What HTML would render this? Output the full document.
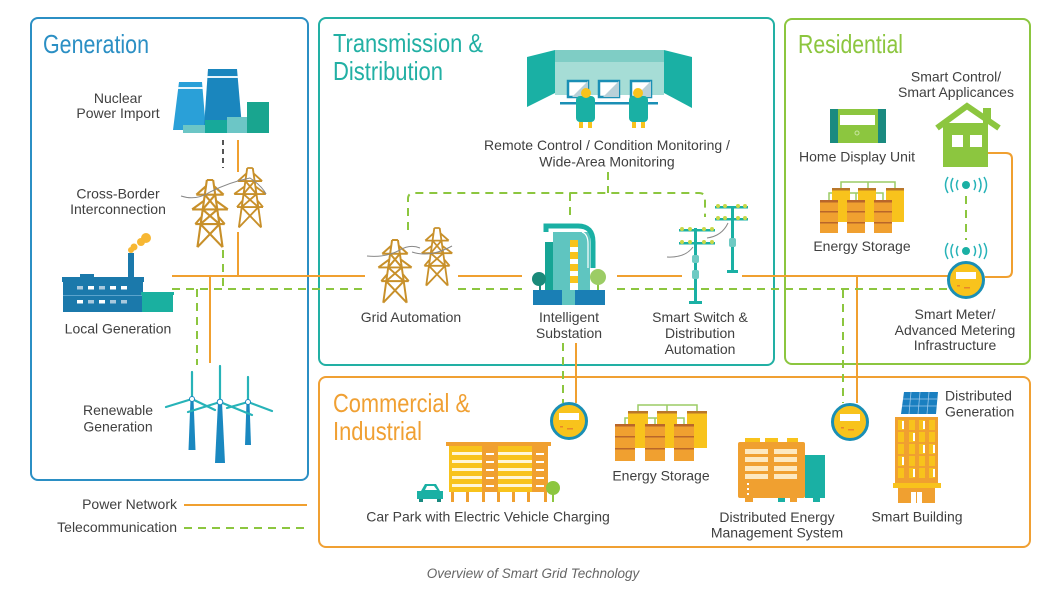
<!DOCTYPE html>
<html><head><meta charset="utf-8">
<style>
html,body{margin:0;padding:0;background:#fff;}
svg{display:block;}
text{font-family:"Liberation Sans",Arial,sans-serif;}
.l{font-size:14px;fill:#404040;text-anchor:middle;}
.t{font-size:26px;}
</style></head><body>
<svg width="1055" height="590" viewBox="0 0 1055 590" xmlns="http://www.w3.org/2000/svg">
<defs>
  <g id="tower" fill="none" stroke="#c8902a" stroke-width="2" stroke-linejoin="round">
    <path d="M-3,0 L-12,64 M3,0 L12,64 M-3,0 H3
             M-13,14 H13 M-13,14 L-4,6 M13,14 L4,6
             M-17,28 H17 M-17,28 L-6,20 M17,28 L6,20
             M-14,42 H14 M-14,42 L-8,35 M14,42 L8,35
             M-5,14 L7,28 M5,14 L-7,28 M-7,28 L9,42 M7,28 L-9,42
             M-9,42 L12,64 M9,42 L-12,64"/>
  </g>
  <g id="meter">
    <circle cx="0" cy="0" r="17.5" fill="#f8c31c" stroke="#1a8fb5" stroke-width="3"/>
    <rect x="-10" y="-8" width="20" height="7" fill="#fff"/>
    <rect x="-9" y="5" width="3" height="1.5" fill="#e8862a"/>
    <rect x="-2" y="7" width="6" height="1.5" fill="#e8862a"/>
  </g>
  <g id="wifi" fill="none" stroke="#27b3b8" stroke-width="1.5">
    <circle cx="0" cy="0" r="4" fill="#1ab0a4" stroke="none"/>
    <path d="M-8,-5 Q-11,0 -8,5 M-13,-7 Q-17,0 -13,7 M-18,-8 Q-23,0 -18,8"/>
    <path d="M8,-5 Q11,0 8,5 M13,-7 Q17,0 13,7 M18,-8 Q23,0 18,8"/>
  </g>
</defs>

<!-- Panels -->
<rect x="31" y="18" width="277" height="462" rx="7" fill="none" stroke="#2b8fc4" stroke-width="2"/>
<rect x="319" y="18" width="455" height="347" rx="7" fill="none" stroke="#22b0a4" stroke-width="2"/>
<rect x="785" y="19" width="245" height="345" rx="7" fill="none" stroke="#8cc63f" stroke-width="2"/>
<rect x="319" y="377" width="711" height="170" rx="7" fill="none" stroke="#f0a033" stroke-width="2"/>

<!-- Titles -->
<text class="t" x="43" y="53" fill="#2b8fc4" textLength="106" lengthAdjust="spacingAndGlyphs">Generation</text>
<text class="t" x="333" y="52" fill="#22b0a4" textLength="150" lengthAdjust="spacingAndGlyphs">Transmission &amp;</text>
<text class="t" x="333" y="80" fill="#22b0a4" textLength="110" lengthAdjust="spacingAndGlyphs">Distribution</text>
<text class="t" x="798" y="53" fill="#8cc63f" textLength="105" lengthAdjust="spacingAndGlyphs">Residential</text>
<text class="t" x="333" y="412" fill="#f0a033" textLength="137" lengthAdjust="spacingAndGlyphs">Commercial &amp;</text>
<text class="t" x="333" y="440" fill="#f0a033" textLength="89" lengthAdjust="spacingAndGlyphs">Industrial</text>

<!-- Power lines (orange) -->
<g fill="none" stroke="#f0a030" stroke-width="2">
  <path d="M172,276 H365 M458,276 H522 M617,276 H682 M742,276 H948"/>
  <path d="M238,140 V172 M238,232 V276"/>
  <path d="M210,276 V363"/>
  <path d="M576,343 V403"/>
  <path d="M857,276 V403"/>
  <path d="M988,153 H1006 Q1012,153 1012,159 V271 Q1012,277 1006,277 H985"/>
  <path d="M184,505 H307"/>
</g>
<!-- Telecom lines (green dashed) -->
<g fill="none" stroke="#8cc63f" stroke-width="2" stroke-dasharray="8,6">
  <path d="M172,289 H365 M458,289 H522 M617,289 H947"/>
  <path d="M223,250 V289"/>
  <path d="M197,289 V365"/>
  <path d="M608,172 V193"/>
  <path d="M408,230 V199 Q408,193 414,193 H699 Q705,193 705,199 V217"/>
  <path d="M570,193 V217"/>
  <path d="M563,343 V403"/>
  <path d="M843,290 V403"/>
  <path d="M966,196 V240"/>
  <path d="M184,528 H307"/>
</g>
<path d="M223,140 V168" stroke="#555" stroke-width="2" stroke-dasharray="5,4" fill="none"/>

<!-- Nuclear -->
<polygon points="179,82 202,82 206,130 173,130" fill="#2aa0d8"/>
<rect x="178" y="87" width="25" height="2" fill="#e8f5fb"/>
<polygon points="208,69 237,69 242,127 204,127" fill="#1a86be"/>
<rect x="207" y="76" width="31" height="2" fill="#e8f5fb"/>
<rect x="183" y="125" width="22" height="8" fill="#6cc6c6"/>
<rect x="205" y="120" width="22" height="13" fill="#17a99a"/>
<rect x="227" y="117" width="21" height="16" fill="#6cc6c6"/>
<rect x="247" y="102" width="22" height="31" fill="#19a58f"/>

<!-- Cross-border towers -->
<use href="#tower" transform="translate(210,180) scale(1.05)"/>
<use href="#tower" transform="translate(250,168) scale(0.93)"/>
<path d="M181,196 Q196,201 210,192 Q230,182 250,178 Q262,186 266,194" stroke="#888" fill="none" stroke-width="1"/>

<!-- Factory -->
<circle cx="146" cy="238" r="5" fill="#f7b733"/>
<circle cx="141" cy="242" r="4" fill="#f7b733"/>
<circle cx="134" cy="247" r="3.5" fill="#f7b733"/>
<circle cx="131" cy="250" r="3" fill="#f7b733"/>
<rect x="128" y="253" width="6" height="26" fill="#1b79ab"/>
<rect x="62" y="277" width="82" height="5" fill="#1b79ab"/>
<rect x="80" y="274" width="14" height="4" fill="#1b79ab"/>
<rect x="63" y="280" width="80" height="32" fill="#1b79ab"/>
<rect x="63" y="295" width="80" height="1" fill="#5aa3cc"/>
<rect x="142" y="294" width="31" height="18" fill="#1ab0a0"/>
<rect x="141" y="292" width="33" height="3" fill="#1ab0a0"/>
<g fill="#fff">
  <rect x="77" y="286" width="6" height="3.5" fill="#a9c9de"/><rect x="88" y="286" width="6" height="3.5"/><rect x="99" y="286" width="6" height="3.5" fill="#a9c9de"/><rect x="110" y="286" width="6" height="3.5"/><rect x="121" y="286" width="6" height="3.5"/>
  <rect x="77" y="300" width="6" height="3.5"/><rect x="88" y="300" width="6" height="3.5" fill="#a9c9de"/><rect x="99" y="300" width="6" height="3.5"/><rect x="110" y="300" width="6" height="3.5" fill="#a9c9de"/><rect x="121" y="300" width="6" height="3.5" fill="#a9c9de"/>
</g>

<!-- Wind turbines -->
<g fill="#1a88c0">
  <polygon points="190.5,399 193.5,399 195.5,450 188.5,450"/>
  <polygon points="218,402 222,402 225,463 215,463"/>
  <polygon points="246.5,402 249.5,402 251,445 245,445"/>
</g>
<g stroke="#27b3b8" stroke-width="2.2" stroke-linecap="round">
  <path d="M192,399 L192,372 M192,399 L166,407 M192,399 L215,410"/>
  <path d="M220,402 L220,366 M220,402 L188,412 M220,402 L252,415"/>
  <path d="M248,402 L248,377 M248,402 L227,408 M248,402 L272,411"/>
</g>
<g fill="#fff" stroke="#1a88c0" stroke-width="1">
  <circle cx="192" cy="399" r="2.5"/><circle cx="220" cy="402" r="2.8"/><circle cx="248" cy="402" r="2.5"/>
</g>

<!-- Control room -->
<rect x="555" y="50" width="109" height="45" fill="#a6ddd6"/>
<rect x="555" y="50" width="109" height="12" fill="#7fcdc5"/>
<polygon points="527,57 555,50 555,93 527,107" fill="#1ab0a4"/>
<polygon points="664,50 692,57 692,108 664,93" fill="#1ab0a4"/>
<g stroke="#1a8fb5" stroke-width="2.5" fill="#fff">
  <rect x="568" y="81" width="20" height="16"/>
  <rect x="599" y="81" width="20" height="16"/>
  <rect x="631" y="81" width="20" height="16"/>
</g>
<g fill="#b8d0d8">
  <polygon points="588,81 588,97 572,97"/><polygon points="619,81 619,97 603,97"/><polygon points="651,81 651,97 635,97"/>
</g>
<rect x="560" y="102" width="98" height="2.5" fill="#1a8fb5"/>
<rect x="576" y="96" width="19" height="26" rx="4" fill="#1ab0a4"/>
<circle cx="586" cy="93" r="5" fill="#f8c31c"/>
<rect x="579" y="122" width="4" height="6" fill="#f8c31c"/><rect x="588" y="122" width="4" height="6" fill="#f8c31c"/>
<rect x="629" y="96" width="19" height="26" rx="4" fill="#1ab0a4"/>
<circle cx="638" cy="93" r="5" fill="#f8c31c"/>
<rect x="632" y="122" width="4" height="6" fill="#f8c31c"/><rect x="641" y="122" width="4" height="6" fill="#f8c31c"/>

<!-- Grid automation towers -->
<use href="#tower" transform="translate(395,240) scale(0.98)"/>
<use href="#tower" transform="translate(437,228) scale(0.9)"/>
<path d="M367,256 Q385,258 400,250 Q410,244 420,248 M412,252 Q430,258 452,246" stroke="#888" fill="none" stroke-width="1"/>

<!-- Intelligent substation -->
<rect x="545" y="242" width="12" height="52" fill="#16a595"/>
<rect x="553" y="232" width="37" height="64" fill="#5fc5c0"/>
<path d="M546,232 V226 H578 Q593,226 593,242 V268" fill="none" stroke="#1ab0a4" stroke-width="5"/>
<path d="M582,232 Q588,234 588,244 V268" fill="none" stroke="#fff" stroke-width="1.2"/>
<rect x="570" y="240" width="8" height="50" fill="#fff"/>
<g fill="#f8c31c"><rect x="570" y="240" width="8" height="7"/><rect x="570" y="252" width="8" height="7"/><rect x="570" y="264" width="8" height="7"/><rect x="570" y="276" width="8" height="7"/></g>
<rect x="539" y="281" width="2" height="10" fill="#1a8a7a"/>
<circle cx="539" cy="279" r="7" fill="#1a8a7a"/>
<rect x="597" y="280" width="2" height="11" fill="#8cc63f"/>
<circle cx="598" cy="277" r="8" fill="#9ccc65"/>
<rect x="533" y="290" width="29" height="15" fill="#1a7fb5"/>
<rect x="575" y="290" width="30" height="15" fill="#1a7fb5"/>
<rect x="562" y="294" width="13" height="11" fill="#5fc5c0"/>

<!-- Smart switch poles -->
<g fill="#1ab0a4">
  <rect x="694" y="228" width="3" height="75"/>
  <rect x="689" y="301" width="13" height="3"/>
  <rect x="679" y="229" width="36" height="2.5"/>
  <rect x="679" y="242" width="36" height="2.5"/>
  <rect x="731" y="206" width="3" height="66"/>
  <rect x="727" y="270" width="11" height="3"/>
  <rect x="715" y="206" width="33" height="2.5"/>
  <rect x="715" y="218" width="33" height="2.5"/>
</g>
<g fill="#6fcac3">
  <rect x="692" y="255" width="7" height="8" rx="2"/>
  <rect x="692" y="270" width="7" height="9" rx="2"/>
  <rect x="729" y="238" width="7" height="9" rx="2"/>
</g>
<g fill="#c8d848">
  <circle cx="682" cy="229" r="2"/><circle cx="690" cy="229" r="2"/><circle cx="704" cy="229" r="2"/><circle cx="712" cy="229" r="2"/>
  <circle cx="682" cy="242" r="2"/><circle cx="690" cy="242" r="2"/><circle cx="704" cy="242" r="2"/><circle cx="712" cy="242" r="2"/>
  <circle cx="718" cy="206" r="2"/><circle cx="725" cy="206" r="2"/><circle cx="738" cy="206" r="2"/><circle cx="745" cy="206" r="2"/>
  <circle cx="718" cy="218" r="2"/><circle cx="725" cy="218" r="2"/><circle cx="738" cy="218" r="2"/><circle cx="745" cy="218" r="2"/>
</g>
<path d="M667,257 Q685,258 693,247 M707,238 Q722,236 728,223" stroke="#888" fill="none" stroke-width="1"/>

<!-- Residential: home display -->
<rect x="830" y="109" width="56" height="34" rx="2" fill="#8cc63f"/>
<rect x="830" y="109" width="8" height="34" fill="#1a8a80"/>
<rect x="878" y="109" width="8" height="34" fill="#1a8a80"/>
<rect x="840" y="115" width="35" height="10" fill="#fff"/>
<circle cx="857" cy="133" r="2" fill="none" stroke="#c8e6a0" stroke-width="1"/>

<!-- House -->
<rect x="983" y="108" width="8" height="16" fill="#8cc63f"/>
<polyline points="937,128 967,106 999,128" fill="none" stroke="#8cc63f" stroke-width="6"/>
<rect x="943" y="123" width="45" height="44" fill="#8cc63f"/>
<rect x="952" y="135" width="11" height="12" fill="#fff"/>
<rect x="970" y="135" width="12" height="12" fill="#fff"/>

<!-- Wireless + meter residential -->
<use href="#wifi" transform="translate(966,185)"/>
<use href="#wifi" transform="translate(966,251)"/>
<use href="#meter" transform="translate(966,280)"/>

<!-- Residential storage -->
<path d="M841,188 V182 H895 V188 M868,182 V188 M829,200 V193 H883 V200 M856,193 V200" fill="none" stroke="#9ccc65" stroke-width="1.5"/>
<g fill="#f8c31c"><rect x="832" y="188" width="18" height="34"/><rect x="858" y="188" width="18" height="34"/><rect x="886" y="188" width="18" height="34"/></g>
<g fill="#b9772a"><rect x="832" y="188" width="18" height="2.5"/><rect x="858" y="188" width="18" height="2.5"/><rect x="886" y="188" width="18" height="2.5"/></g>
<g fill="#f0a030"><rect x="820" y="200" width="18" height="33"/><rect x="847" y="200" width="18" height="33"/><rect x="874" y="200" width="18" height="33"/></g>
<g fill="#b9662a"><rect x="820" y="200" width="18" height="2.5"/><rect x="847" y="200" width="18" height="2.5"/><rect x="874" y="200" width="18" height="2.5"/>
<rect x="820" y="211" width="18" height="1.5"/><rect x="847" y="211" width="18" height="1.5"/><rect x="874" y="211" width="18" height="1.5"/>
<rect x="820" y="222" width="18" height="1.5"/><rect x="847" y="222" width="18" height="1.5"/><rect x="874" y="222" width="18" height="1.5"/></g>

<!-- Commercial meters -->
<use href="#meter" transform="translate(569,421)"/>
<use href="#meter" transform="translate(850,422)"/>

<!-- Commercial storage -->
<path d="M638,411 V405 H697 V411 M667,405 V411 M625,424 V418 H684 V424 M655,418 V424" fill="none" stroke="#9ccc65" stroke-width="1.5"/>
<g fill="#f8c31c"><rect x="628" y="411" width="20" height="37"/><rect x="657" y="411" width="20" height="37"/><rect x="687" y="411" width="20" height="37"/></g>
<g fill="#b9772a"><rect x="628" y="411" width="20" height="2.5"/><rect x="657" y="411" width="20" height="2.5"/><rect x="687" y="411" width="20" height="2.5"/></g>
<g fill="#f0a030"><rect x="615" y="424" width="20" height="37"/><rect x="645" y="424" width="20" height="37"/><rect x="674" y="424" width="20" height="37"/></g>
<g fill="#b9662a"><rect x="615" y="424" width="20" height="2.5"/><rect x="645" y="424" width="20" height="2.5"/><rect x="674" y="424" width="20" height="2.5"/>
<rect x="615" y="436" width="20" height="1.5"/><rect x="645" y="436" width="20" height="1.5"/><rect x="674" y="436" width="20" height="1.5"/>
<rect x="615" y="448" width="20" height="1.5"/><rect x="645" y="448" width="20" height="1.5"/><rect x="674" y="448" width="20" height="1.5"/></g>

<!-- Car park -->
<rect x="446" y="442" width="105" height="4" fill="#f0a030"/>
<rect x="449" y="446" width="99" height="46" fill="#f8c31c"/>
<g fill="#fff6d8"><rect x="452" y="452" width="93" height="3"/><rect x="452" y="460" width="93" height="3"/><rect x="452" y="468" width="93" height="3"/><rect x="452" y="476" width="93" height="3"/><rect x="452" y="484" width="93" height="3"/></g>
<rect x="482" y="446" width="16" height="46" fill="#f0a030"/>
<rect x="532" y="446" width="16" height="46" fill="#f0a030"/>
<g fill="#fff"><rect x="486" y="453" width="8" height="2"/><rect x="486" y="461" width="8" height="2"/><rect x="486" y="469" width="8" height="2"/><rect x="486" y="477" width="8" height="2"/><rect x="486" y="485" width="8" height="2"/>
<rect x="536" y="453" width="8" height="2"/><rect x="536" y="461" width="8" height="2"/><rect x="536" y="469" width="8" height="2"/><rect x="536" y="477" width="8" height="2"/><rect x="536" y="485" width="8" height="2"/></g>
<g fill="#f0a030"><rect x="451" y="492" width="3" height="10"/><rect x="466" y="492" width="3" height="10"/><rect x="482" y="492" width="3" height="10"/><rect x="497" y="492" width="3" height="10"/><rect x="512" y="492" width="3" height="10"/><rect x="527" y="492" width="3" height="10"/><rect x="544" y="492" width="3" height="10"/></g>
<path d="M421,491 L425,484 H436 L440,491 H443 V499 H417 V491 Z" fill="#1ab0a4"/>
<path d="M425,490 L427,486 H434 L437,490 Z" fill="#fff"/>
<rect x="419" y="499" width="4" height="3" fill="#1a8a80"/><rect x="437" y="499" width="4" height="3" fill="#1a8a80"/>
<rect x="552" y="490" width="2" height="12" fill="#8cc63f"/>
<circle cx="553" cy="488" r="7" fill="#8cc63f"/>

<!-- DEMS -->
<g fill="#f8c31c"><rect x="745" y="438" width="15" height="5"/><rect x="765" y="438" width="13" height="5"/><rect x="787" y="438" width="11" height="5"/></g>
<rect x="738" y="442" width="67" height="56" rx="2" fill="#f0a030"/>
<rect x="805" y="455" width="20" height="43" fill="#1ab0a4"/>
<g fill="#fde9c0"><rect x="745" y="449" width="23" height="5"/><rect x="774" y="449" width="23" height="5"/><rect x="745" y="457" width="23" height="5"/><rect x="774" y="457" width="23" height="5"/><rect x="745" y="466" width="23" height="5"/><rect x="774" y="466" width="23" height="5"/><rect x="745" y="474" width="23" height="5"/><rect x="774" y="474" width="23" height="5"/></g>
<g fill="#fff"><rect x="747" y="483" width="2" height="2"/><rect x="747" y="488" width="2" height="2"/><rect x="747" y="493" width="2" height="2"/></g>
<rect x="745" y="498" width="8" height="4" fill="#f0a030"/><rect x="778" y="498" width="7" height="4" fill="#1ab0a4"/><rect x="790" y="498" width="7" height="4" fill="#f0a030"/><rect x="813" y="498" width="7" height="4" fill="#1ab0a4"/>

<!-- Smart building -->
<polygon points="904,392 938,392 936,414 901,414" fill="#1a7fc0"/>
<path d="M903,399 H937 M902,406 H937 M911,392 L909,414 M920,392 L918,414 M929,392 L927,414" stroke="#9cc8ea" stroke-width="0.8" fill="none"/>
<rect x="895" y="417" width="43" height="66" fill="#f0a030"/>
<g fill="#f8c31c">
  <rect x="898" y="420" width="6" height="10"/><rect x="909" y="420" width="6" height="10"/><rect x="919" y="420" width="6" height="10"/><rect x="929" y="420" width="6" height="10"/>
  <rect x="898" y="432" width="6" height="10"/><rect x="909" y="432" width="6" height="10"/><rect x="919" y="432" width="6" height="10"/><rect x="929" y="432" width="6" height="10"/>
  <rect x="898" y="444" width="6" height="10"/><rect x="909" y="444" width="6" height="10"/><rect x="919" y="444" width="6" height="10"/><rect x="929" y="444" width="6" height="10"/>
  <rect x="898" y="456" width="6" height="10"/><rect x="909" y="456" width="6" height="10"/><rect x="919" y="456" width="6" height="10"/><rect x="929" y="456" width="6" height="10"/>
  <rect x="898" y="468" width="6" height="10"/><rect x="909" y="468" width="6" height="10"/><rect x="919" y="468" width="6" height="10"/><rect x="929" y="468" width="6" height="10"/>
</g>
<g fill="#fff">
  <rect x="902" y="421" width="2" height="8"/><rect x="913" y="433" width="2" height="8"/><rect x="923" y="421" width="2" height="8"/><rect x="933" y="445" width="2" height="8"/>
  <rect x="902" y="457" width="2" height="8"/><rect x="913" y="469" width="2" height="8"/><rect x="923" y="445" width="2" height="8"/><rect x="933" y="469" width="2" height="8"/>
</g>
<rect x="893" y="483" width="48" height="5" fill="#f8c31c"/>
<rect x="898" y="488" width="37" height="15" fill="#f0a030"/>
<rect x="911" y="492" width="11" height="11" fill="#fff"/>
<rect x="916" y="492" width="1" height="11" fill="#f0a030"/>

<!-- Labels -->
<text class="l" x="118" y="103">Nuclear</text>
<text class="l" x="118" y="118">Power Import</text>
<text class="l" x="118" y="198.5">Cross-Border</text>
<text class="l" x="118" y="214">Interconnection</text>
<text class="l" x="118" y="333.5">Local Generation</text>
<text class="l" x="118" y="415">Renewable</text>
<text class="l" x="118" y="431.5">Generation</text>
<text class="l" x="177" y="509" style="text-anchor:end">Power Network</text>
<text class="l" x="177" y="532" style="text-anchor:end">Telecommunication</text>

<text class="l" x="607" y="150">Remote Control / Condition Monitoring /</text>
<text class="l" x="607" y="166.5">Wide-Area Monitoring</text>
<text class="l" x="411" y="322">Grid Automation</text>
<text class="l" x="569" y="322">Intelligent</text>
<text class="l" x="569" y="338">Substation</text>
<text class="l" x="700" y="322">Smart Switch &amp;</text>
<text class="l" x="700" y="338">Distribution</text>
<text class="l" x="700" y="354">Automation</text>

<text class="l" x="956" y="81.5">Smart Control/</text>
<text class="l" x="956" y="97">Smart Applicances</text>
<text class="l" x="857" y="161.5">Home Display Unit</text>
<text class="l" x="862" y="251">Energy Storage</text>
<text class="l" x="955" y="319">Smart Meter/</text>
<text class="l" x="955" y="335">Advanced Metering</text>
<text class="l" x="955" y="350">Infrastructure</text>

<text class="l" x="488" y="521.5">Car Park with Electric Vehicle Charging</text>
<text class="l" x="661" y="480.5">Energy Storage</text>
<text class="l" x="777" y="522">Distributed Energy</text>
<text class="l" x="777" y="537.5">Management System</text>
<text class="l" x="917" y="521.5">Smart Building</text>
<text class="l" x="945" y="400.5" style="text-anchor:start">Distributed</text>
<text class="l" x="945" y="416.5" style="text-anchor:start">Generation</text>

<text x="533" y="578" font-size="13.5" font-style="italic" fill="#666" text-anchor="middle">Overview of Smart Grid Technology</text>
</svg>
</body></html>
